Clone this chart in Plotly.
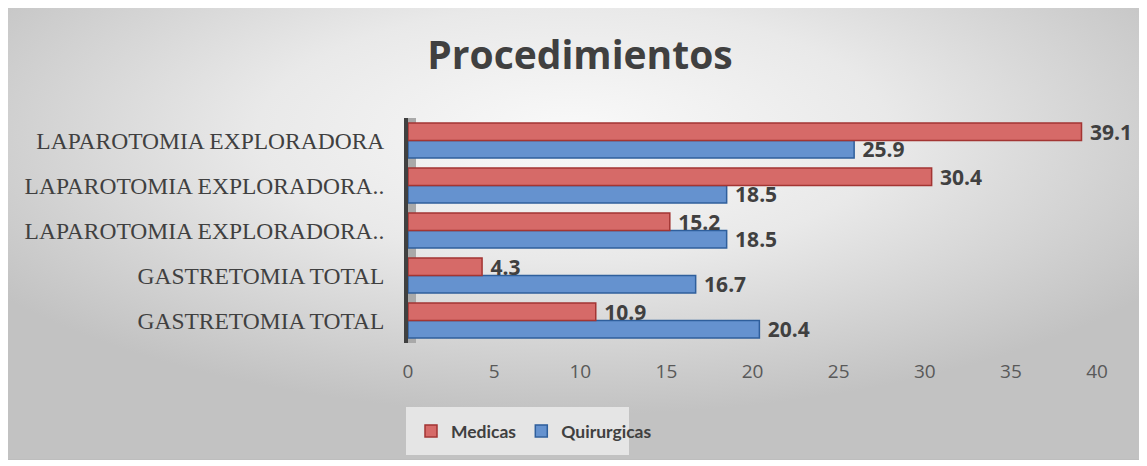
import base64
import plotly.graph_objects as go

# data, listed bottom to top as drawn
categories = ["GASTRETOMIA TOTAL", "GASTRETOMIA TOTAL", "LAPAROTOMIA EXPLORADORA..",
              "LAPAROTOMIA EXPLORADORA..", "LAPAROTOMIA EXPLORADORA"]
medicas = [10.9, 4.3, 15.2, 30.4, 39.1]
quirurgicas = [20.4, 16.7, 18.5, 18.5, 25.9]
x_ticks = [0, 5, 10, 15, 20, 25, 30, 35, 40]

OFF = 8  # page body margin
W, H = 1147 - OFF, 466 - OFF
L, R, T, B = 408 - OFF, 1097 - OFF, 118 - OFF, 343 - OFF  # plot area in px
pw, ph = R - L, B - T


def px(x):  # page px -> paper x
    return (x - OFF - L) / pw


def py(y):  # page px -> paper y
    return (B - (y - OFF)) / ph


# gradient chart background (office style)
svg = ('<svg xmlns="http://www.w3.org/2000/svg" width="1133" height="454" viewBox="0 0 1133 454" '
       'preserveAspectRatio="none"><defs><radialGradient id="g" cx="0.5" cy="0.28" r="0.62">'
       '<stop offset="0" stop-color="#f9f9f9"/><stop offset="0.45" stop-color="#e9e9e9"/>'
       '<stop offset="1" stop-color="#c2c2c2"/></radialGradient></defs>'
       '<rect width="1133" height="454" fill="url(#g)" stroke="#bdbdbd" stroke-width="2"/></svg>')
bg = "data:image/svg+xml;base64," + base64.b64encode(svg.encode()).decode()

ypos = list(range(len(categories)))
txt_font = dict(family="Open Sans", size=21, color="#404040", weight="bold")

fig = go.Figure()
fig.add_trace(go.Bar(
    y=ypos, x=quirurgicas, orientation="h", name="Quirurgicas", legendrank=2,
    marker=dict(color="#6592cf", line=dict(color="#2f5f9c", width=1.5)),
    texttemplate="\u00a0%{x}", textposition="outside", textfont=txt_font,
    cliponaxis=False, constraintext="none"))
fig.add_trace(go.Bar(
    y=ypos, x=medicas, orientation="h", name="Medicas", legendrank=1,
    marker=dict(color="#d66a68", line=dict(color="#a33533", width=1.5)),
    texttemplate="\u00a0%{x}", textposition="outside", textfont=txt_font,
    cliponaxis=False, constraintext="none"))

fig.add_layout_image(dict(
    source=bg, xref="paper", yref="paper",
    x=px(7), y=py(6), sizex=1133 / pw, sizey=454 / ph,
    xanchor="left", yanchor="top", sizing="stretch", layer="below"))

# grey 3d wall next to the axis
fig.add_shape(type="rect", xref="paper", yref="paper", x0=-4 / pw, x1=8 / pw, y0=0, y1=1,
              fillcolor="#a9a9a9", line=dict(width=0), layer="below")
# legend box
fig.add_shape(type="rect", xref="paper", yref="paper", x0=px(406), x1=px(629),
              y0=py(455), y1=py(407), fillcolor="rgba(238,238,238,0.8)",
              line=dict(width=0), layer="below")

fig.update_layout(
    width=W, height=H,
    margin=dict(l=L, r=W - R, t=T, b=H - B),
    paper_bgcolor="white", plot_bgcolor="rgba(0,0,0,0)",
    title=dict(text="Procedimientos", xref="container", yref="container",
               x=(580 - OFF) / W, y=1 - (55 - OFF) / H, xanchor="center", yanchor="middle",
               font=dict(family="Open Sans", size=39, color="#404040", weight="bold")),
    barmode="group", bargap=0.22, bargroupgap=0,
    showlegend=True,
    legend=dict(orientation="h", x=px(411), y=py(431),
                xanchor="left", yanchor="middle", bgcolor="rgba(0,0,0,0)",
                font=dict(family="Lato", size=17.5, color="#404040", weight="bold"),
                itemwidth=30, traceorder="normal"),
    xaxis=dict(range=[0, 40], tickvals=x_ticks, showgrid=False, zeroline=False, showline=False,
               tickfont=dict(family="Open Sans", size=19, color="#595959"),
               ticklabelstandoff=15),
    yaxis=dict(tickvals=ypos, ticktext=categories, range=[-0.5, len(categories) - 0.5],
               showgrid=False, zeroline=False, showline=True, linewidth=4, linecolor="#404040",
               tickfont=dict(family="Liberation Serif", size=23.5, color="#404040"),
               ticklabelstandoff=15),
)

fig.write_html("out.html")
